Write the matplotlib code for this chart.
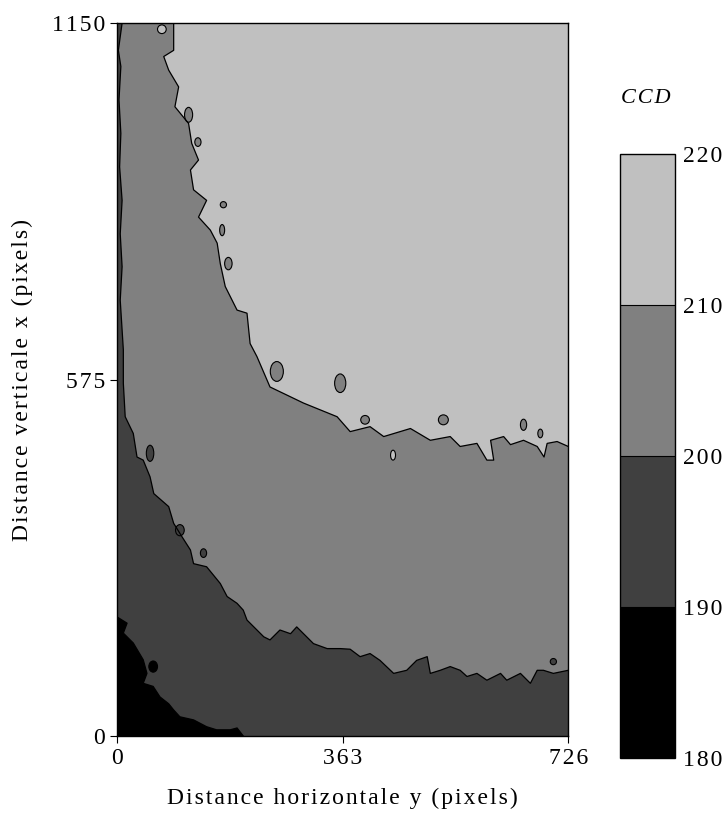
import matplotlib
matplotlib.use("Agg")
import matplotlib.pyplot as plt
from matplotlib.colors import ListedColormap, BoundaryNorm
from matplotlib.cm import ScalarMappable
from matplotlib.patches import Ellipse

plt.rcParams['font.family'] = ['Liberation Serif', 'DejaVu Serif']

# contour levels and their grey fills
levels = [180, 190, 200, 210, 220]
grays = ['#000000', '#404040', '#808080', '#c0c0c0']

# boundary 210: horizontal y, vertical x
b210_h = [91, 91, 75, 83, 99, 93, 115, 120, 131, 118, 123, 144, 131, 150, 161, 166, 174, 193, 209,
          214, 225, 246, 300, 354, 375, 407, 429, 472, 504, 536, 552, 579, 595, 606, 601, 622, 633,
          654, 676, 687, 692, 708, 726]
b210_v = [1150, 1106, 1096, 1074, 1047, 1015, 988, 956, 929, 913, 881, 864, 837, 816, 795, 762, 725,
          687, 682, 633, 612, 563, 537, 515, 491, 499, 483, 496, 477, 483, 467, 472, 445, 445, 477,
          483, 470, 477, 467, 450, 472, 475, 467]

# boundary 200
b200_h = [8, 2, 6, 3, 6, 4, 8, 5, 8, 5, 10, 10, 13, 26, 32, 42, 53, 59, 83, 91, 104, 118, 123,
          144, 166, 177, 193, 203, 209, 220, 236, 246, 262, 279, 289, 300, 316, 338, 359, 375,
          391, 407, 423, 445, 466, 482, 499, 504, 520, 536, 552, 563, 579, 595, 617, 627, 649,
          665, 676, 686, 702, 726]
b200_v = [1150, 1106, 1080, 1026, 972, 918, 864, 810, 757, 703, 623, 569, 515, 488, 450, 445, 418,
          391, 370, 343, 322, 300, 278, 273, 246, 225, 214, 203, 187, 176, 160, 155, 171, 165, 176,
          165, 149, 141, 141, 140, 128, 133, 122, 101, 106, 122, 128, 101, 106, 112, 106, 96, 101,
          90, 101, 90, 101, 85, 106, 106, 101, 106]

# boundary 190
b190_h = [0, 16, 10, 26, 42, 48, 42, 58, 69, 83, 91, 101, 123, 144, 160, 182, 193, 203]
b190_v = [192, 182, 166, 150, 123, 101, 85, 80, 63, 52, 42, 31, 26, 15, 10, 10, 13, 0]

# small isolated patches: centre, extent, grey band index
isl_h = [72, 115, 130, 171, 169, 179, 444, 525, 654, 399, 257, 359, 681, 53, 101, 139, 58, 702]
isl_v = [1140, 1002, 958, 857, 816, 762, 453, 510, 502, 510, 588, 569, 488, 456, 332, 295, 112, 120]
isl_w = [14, 13, 10, 10, 8, 12, 8, 16, 10, 14, 21, 18, 8, 12, 14, 10, 14, 10]
isl_hgt = [14, 24, 14, 10, 18, 20, 16, 16, 18, 14, 32, 30, 14, 26, 18, 14, 18, 10]
isl_band = [3, 2, 2, 2, 2, 2, 3, 2, 2, 2, 2, 2, 2, 1, 1, 1, 0, 1]

xticks = [0, 363, 726]
yticks = [0, 575, 1150]


def spaced(s):
    return '\u200a'.join(s)


fig = plt.figure(figsize=(7.23, 8.23), dpi=100)
ax = fig.add_axes([0.162, 0.1057, 0.624, 0.8663])
ax.set_facecolor(grays[3])

ax.fill(b210_h + [726, 0, 0], b210_v + [0, 0, 1150], color=grays[2], lw=0)
ax.fill(b200_h + [726, 0, 0], b200_v + [0, 0, 1150], color=grays[1], lw=0)
ax.fill(b190_h + [0], b190_v + [0], color=grays[0], lw=0)
for h, v in [(b210_h, b210_v), (b200_h, b200_v), (b190_h, b190_v)]:
    ax.plot(h, v, color='black', lw=0.9)

for h, v, w, hh, b in zip(isl_h, isl_v, isl_w, isl_hgt, isl_band):
    ax.add_patch(Ellipse((h, v), w, hh, facecolor=grays[b], edgecolor='black', lw=0.8))

ax.set_xlim(0, 726)
ax.set_ylim(0, 1150)
ax.set_xticks(xticks)
ax.set_yticks(yticks)
ax.set_xticklabels([spaced(str(t)) for t in xticks])
ax.set_yticklabels([spaced(str(t)) for t in yticks])
ax.tick_params(direction='out', length=5, width=0.8, labelsize=17, colors='black')
for s in ax.spines.values():
    s.set_linewidth(1.0)
ax.set_xlabel(spaced('Distance horizontale y (pixels)'), fontsize=17, labelpad=14)
ax.set_ylabel(spaced('Distance verticale x (pixels)'), fontsize=17, labelpad=14)

cax = fig.add_axes([0.858, 0.079, 0.075, 0.734])
sm = ScalarMappable(norm=BoundaryNorm(levels, 4), cmap=ListedColormap(grays))
cb = fig.colorbar(sm, cax=cax, ticks=levels, drawedges=True)
cb.ax.tick_params(length=0, labelsize=17, pad=6)
cb.ax.set_yticklabels([spaced(str(t)) for t in levels])
cb.outline.set_linewidth(1.0)
cb.dividers.set_linewidth(0.8)
fig.text(0.893, 0.875, spaced('CCD'), fontsize=16, style='italic', ha='center')

fig.savefig('out.png', dpi=100)
